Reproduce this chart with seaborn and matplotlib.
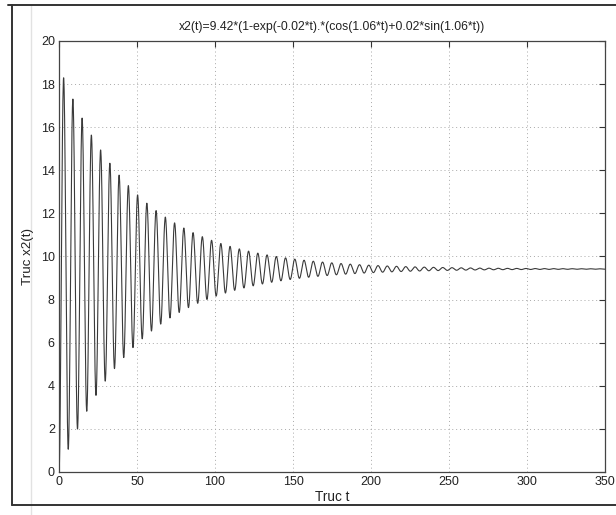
import numpy as np
import pandas as pd
import matplotlib
matplotlib.use("Agg")
import matplotlib.pyplot as plt
from matplotlib.lines import Line2D
import seaborn as sns

# Step response parameters, as given in the title expression
gain = 9.42
decay = 0.02
omega = 1.06
sin_coef = 0.02
t_max = 350
t_step = 0.1

title_text = "x2(t)=9.42*(1-exp(-0.02*t).*(cos(1.06*t)+0.02*sin(1.06*t))"
x_label = "Truc t"
y_label = "Truc x2(t)"
x_ticks = [0, 50, 100, 150, 200, 250, 300, 350]
y_ticks = [0, 2, 4, 6, 8, 10, 12, 14, 16, 18, 20]

t = np.arange(0, t_max + t_step / 2, t_step)
x2 = gain * (1 - np.exp(-decay * t) * (np.cos(omega * t) + sin_coef * np.sin(omega * t)))
df = pd.DataFrame({"t": t, "x2": x2})

sns.set_theme(style="white")
plt.rcParams["font.family"] = ["Liberation Sans", "DejaVu Sans"]

fig = plt.figure(figsize=(6.16, 5.15), dpi=100)
ax = fig.add_axes([59 / 616, 1 - 472 / 515, (605 - 59) / 616, (472 - 41) / 515])

sns.lineplot(data=df, x="t", y="x2", ax=ax, color="#3a3a3a", linewidth=0.8,
             estimator=None, sort=False)

ax.set_xlim(0, 350)
ax.set_ylim(0, 20)
ax.set_xticks(x_ticks)
ax.set_yticks(y_ticks)
ax.tick_params(direction="in", length=4, width=0.8, colors="#333333",
               labelsize=9, top=True, right=True, pad=3)
for lbl in ax.get_xticklabels() + ax.get_yticklabels():
    lbl.set_color("#222222")
ax.grid(True, linestyle=(0, (1, 3)), color="#a8a8a8", linewidth=0.7)
for sp in ax.spines.values():
    sp.set_color("#444444")
    sp.set_linewidth(0.9)

ax.set_title(title_text, fontsize=8.8, color="#222222", pad=8)
ax.set_xlabel(x_label, fontsize=9.8, color="#222222", labelpad=1)
ax.set_ylabel(y_label, fontsize=9.6, color="#222222", labelpad=5)

# page frame around the figure
frame_kw = dict(color="#333333", linewidth=1.4, transform=fig.transFigure, zorder=-1)
fig.add_artist(Line2D([12 / 616, 12 / 616], [1 - 505 / 515, 1 - 5 / 515], **frame_kw))
fig.add_artist(Line2D([8 / 616, 1.0], [1 - 5 / 515, 1 - 5 / 515], **frame_kw))
fig.add_artist(Line2D([12 / 616, 1.0], [1 - 505 / 515, 1 - 505 / 515], **frame_kw))
fig.add_artist(Line2D([31 / 616, 31 / 616], [0, 1 - 5 / 515],
                      color="#e2e2e2", linewidth=1.0, transform=fig.transFigure, zorder=-2))

fig.savefig("out.png", dpi=100)
